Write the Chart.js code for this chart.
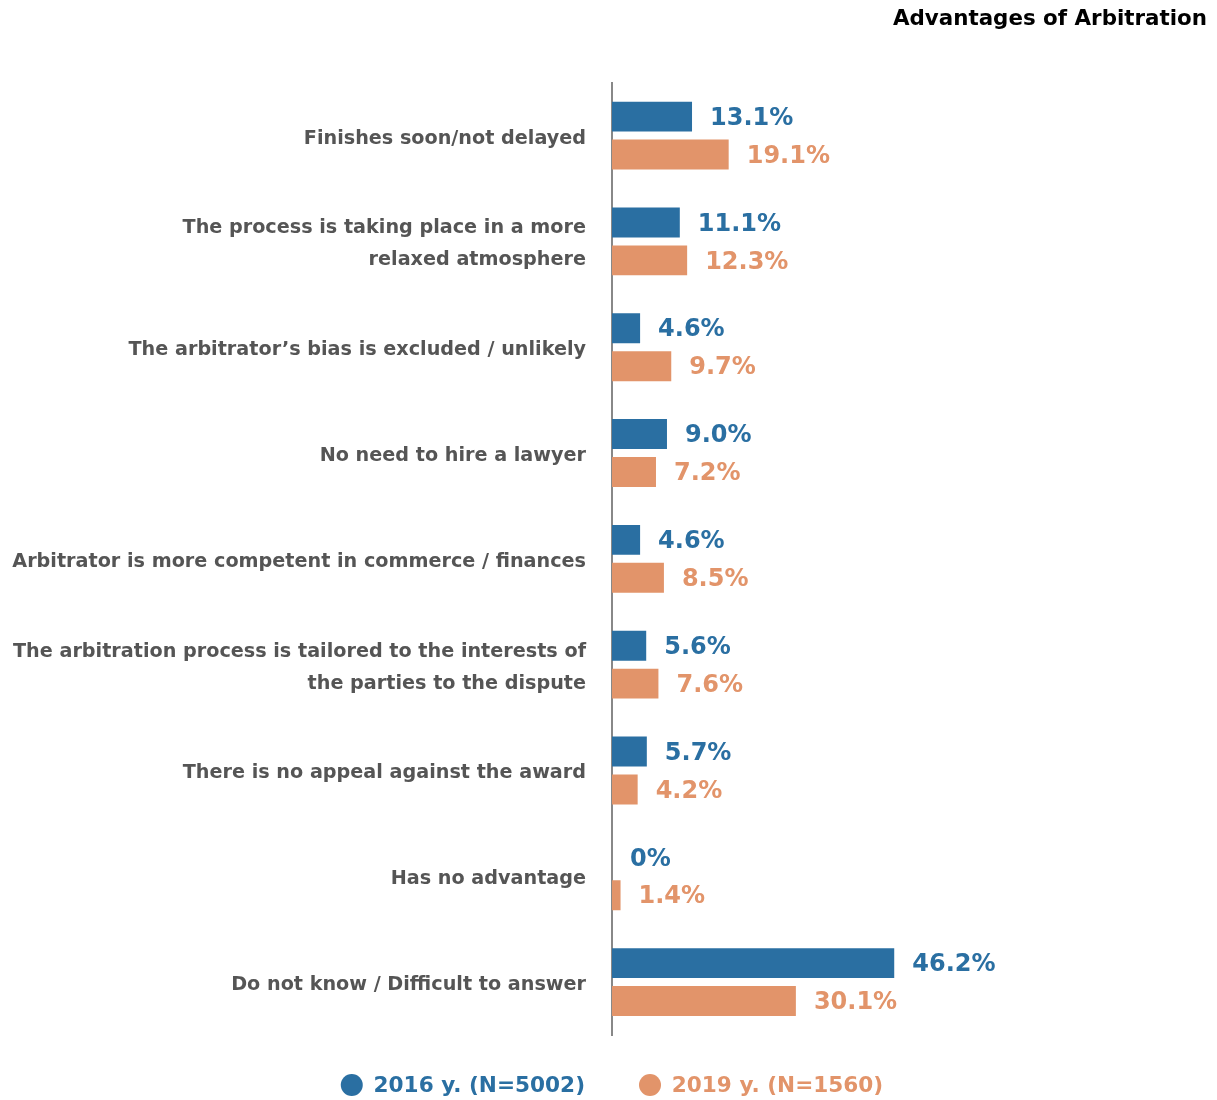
<!DOCTYPE html>
<html>
<head>
<meta charset="utf-8">
<script src="https://cdn.jsdelivr.net/npm/chart.js@4/dist/chart.umd.min.js"></script>
<style>
  html, body { margin: 0; padding: 0; background: #fff; }
  #wrap { width: 1217px; height: 1100px; }
</style>
</head>
<body>
<div id="wrap"><canvas id="arbChart"></canvas></div>
<script>
const categories = [
    "Finishes soon/not delayed",
    ["The process is taking place in a more", "relaxed atmosphere"],
    "The arbitrator’s bias is excluded / unlikely",
    "No need to hire a lawyer",
    "Arbitrator is more competent in commerce / finances",
    ["The arbitration process is tailored to the interests of", "the parties to the dispute"],
    "There is no appeal against the award",
    "Has no advantage",
    "Do not know / Difficult to answer"
];
const values2016 = [13.1, 11.1, 4.6, 9.0, 4.6, 5.6, 5.7, 0, 46.2];
const values2019 = [19.1, 12.3, 9.7, 7.2, 8.5, 7.6, 4.2, 1.4, 30.1];
const seriesNames = ["2016 y. (N=5002)", "2019 y. (N=1560)"];

const BLUE = "#2a6fa2";
const ORANGE = "#e2946a";
const FONT = "'DejaVu Sans', sans-serif";

// value labels to the right of each bar
const valueLabels = {
    id: "valueLabels",
    afterDatasetsDraw(chart) {
        const ctx = chart.ctx;
        ctx.save();
        ctx.font = "bold 24px " + FONT;
        ctx.textBaseline = "middle";
        ctx.textAlign = "left";
        chart.data.datasets.forEach((ds, i) => {
            const meta = chart.getDatasetMeta(i);
            meta.data.forEach((bar, j) => {
                const v = ds.data[j];
                ctx.fillStyle = ds.backgroundColor;
                const txt = (v === 0 ? "0" : v.toFixed(1)) + "%";
                ctx.fillText(txt, bar.x + 18, bar.y + 2);
            });
        });
        ctx.restore();
    }
};

// legend at the bottom: round marker + coloured text, centred under the axis line
const bottomLegend = {
    id: "bottomLegend",
    afterDraw(chart) {
        const ctx = chart.ctx;
        const fontSize = 21.6, r = 11, gap = 54;
        ctx.save();
        ctx.font = "bold " + fontSize + "px " + FONT;
        ctx.textBaseline = "middle";
        ctx.textAlign = "left";
        const items = chart.data.datasets.map(ds => ({
            text: ds.label,
            color: ds.backgroundColor,
            w: 2 * r + fontSize / 2 + ctx.measureText(ds.label).width
        }));
        const total = items.reduce((s, it) => s + it.w, 0) + gap * (items.length - 1);
        let x = chart.chartArea.left - total / 2;
        const y = 1085;
        items.forEach(it => {
            ctx.fillStyle = it.color;
            ctx.beginPath();
            ctx.arc(x + r, y, r, 0, Math.PI * 2);
            ctx.fill();
            ctx.fillText(it.text, x + 2 * r + fontSize / 2, y + 1);
            x += it.w + gap;
        });
        ctx.restore();
    }
};

new Chart(document.getElementById("arbChart"), {
    type: "bar",
    data: {
        labels: categories,
        datasets: [
            { label: seriesNames[0], data: values2016, backgroundColor: BLUE },
            { label: seriesNames[1], data: values2019, backgroundColor: ORANGE }
        ]
    },
    options: {
        indexAxis: "y",
        responsive: true,
        maintainAspectRatio: false,
        animation: false,
        categoryPercentage: 0.717,
        barPercentage: 0.79,
        layout: { padding: { top: 7, right: 10, bottom: 65, left: 0 } },
        scales: {
            x: {
                display: false,
                min: 0,
                max: 97.4
            },
            y: {
                afterFit: (scale) => { scale.width = 612; },
                grid: { display: false, drawTicks: false },
                border: { display: true, color: "#888", width: 2 },
                ticks: {
                    color: "#555",
                    padding: 26,
                    labelOffset: 3,
                    font: { family: FONT, size: 19.2, weight: "bold", lineHeight: 1.66 }
                }
            }
        },
        plugins: {
            title: {
                display: true,
                text: "Advantages of Arbitration",
                align: "end",
                color: "#000",
                font: { family: FONT, size: 21.4, weight: "bold" },
                padding: { top: 0, bottom: 50 }
            },
            legend: { display: false },
            tooltip: { enabled: false }
        }
    },
    plugins: [valueLabels, bottomLegend]
});
</script>
</body>
</html>
